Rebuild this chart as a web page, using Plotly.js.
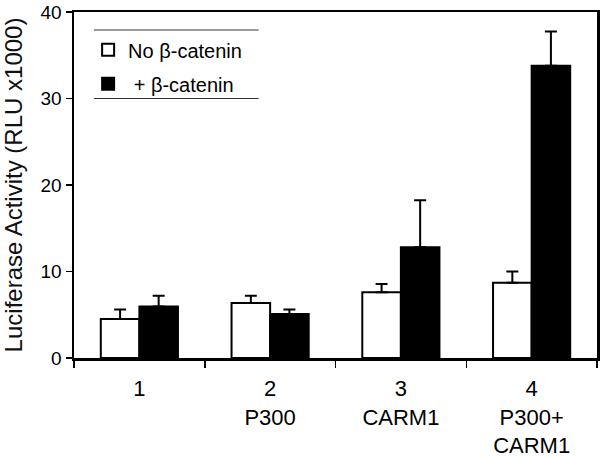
<!DOCTYPE html>
<html>
<head>
<meta charset="utf-8">
<script src="https://cdn.plot.ly/plotly-3.0.1.min.js"></script>
<style>html,body{margin:0;padding:0;background:#fff;}#chart{width:600px;height:457px;}</style>
</head>
<body>
<div id="chart"></div>
<script>
const categories = ["1", "2<br>P300", "3<br>CARM1", "4<br>P300+<br>CARM1"];
const noCatenin = [4.5, 6.35, 7.6, 8.7];
const noCateninErr = [1.1, 0.85, 0.95, 1.3];
const plusCatenin = [5.95, 5.1, 12.8, 33.8];
const plusCateninErr = [1.25, 0.5, 5.45, 3.95];
const seriesNames = ["No \u03b2-catenin", " + \u03b2-catenin"];
const yTicks = [0, 10, 20, 30, 40];

const font = "Liberation Sans, Arial, sans-serif";

const traces = [
  {
    type: "bar", name: seriesNames[0], x: categories, y: noCatenin,
    legendgroup: "a",
    marker: {color: "#ffffff", line: {color: "#000000", width: 2}},
    error_y: {type: "data", array: noCateninErr, symmetric: false, arrayminus: [0,0,0,0],
              color: "#000000", thickness: 2, width: 6}
  },
  {
    type: "bar", name: seriesNames[1], x: categories, y: plusCatenin,
    legendgroup: "b",
    marker: {color: "#000000", line: {color: "#000000", width: 2}},
    error_y: {type: "data", array: plusCateninErr, symmetric: false, arrayminus: [0,0,0,0],
              color: "#000000", thickness: 2, width: 6}
  }
];

const layout = {
  width: 600, height: 457,
  margin: {l: 74, r: 3, t: 12, b: 99},
  paper_bgcolor: "#ffffff", plot_bgcolor: "#ffffff",
  font: {family: font, color: "#000000"},
  barmode: "group", bargap: 0.41, bargroupgap: 0,
  showlegend: true,
  legend: {
    x: 0.027, y: 0.947, xanchor: "left", yanchor: "top",
    bgcolor: "rgba(0,0,0,0)", borderwidth: 0,
    font: {family: font, size: 20, color: "#000000"},
    tracegroupgap: 5, itemwidth: 30, traceorder: "grouped"
  },
  xaxis: {
    type: "category", tickson: "boundaries",
    ticks: "outside", ticklen: 7, tickwidth: 1.5, tickcolor: "#000000",
    showline: true, linecolor: "#000000", linewidth: 2.5, mirror: true,
    showgrid: false, zeroline: false,
    tickfont: {family: font, size: 22, color: "#000000"},
    ticklabelstandoff: 9
  },
  yaxis: {
    range: [0, 40], tickvals: yTicks, ticktext: yTicks.map(String),
    ticks: "outside", ticklen: 6, tickwidth: 1.5, tickcolor: "#000000",
    showline: true, linecolor: "#000000", linewidth: 2.5, mirror: true,
    showgrid: false, zeroline: false,
    tickfont: {family: font, size: 19, color: "#000000"},
    title: {text: "Luciferase Activity (RLU x1000)", font: {family: font, size: 24, color: "#111111"}, standoff: 14}
  },
  shapes: [
    {type: "line", xref: "paper", yref: "paper", x0: 0.038, x1: 0.353, y0: 0.948, y1: 0.948,
     line: {color: "#333333", width: 1}},
    {type: "line", xref: "paper", yref: "paper", x0: 0.038, x1: 0.353, y0: 0.750, y1: 0.750,
     line: {color: "#333333", width: 1}}
  ]
};

Plotly.newPlot("chart", traces, layout, {displayModeBar: false, staticPlot: true});
</script>
</body>
</html>
